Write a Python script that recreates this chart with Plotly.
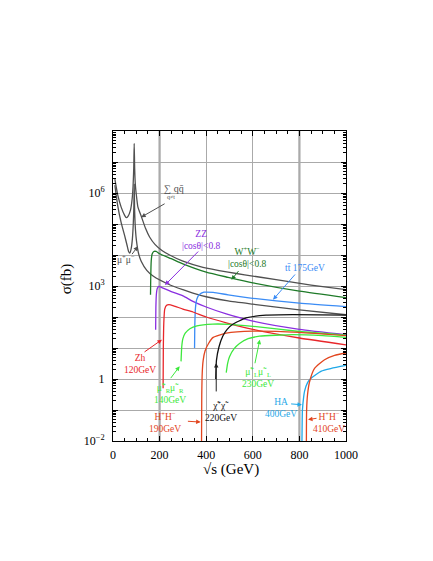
import plotly.graph_objects as go

# cross sections (fb) vs sqrt(s) (GeV)
qq_x = [8, 20, 35, 50, 57, 65, 75, 82, 86, 89, 91, 93, 96, 100, 107, 121, 140, 157, 180, 210, 243, 300, 386, 494, 565, 700, 850, 1000]
qq_y = [2.8e6, 8.9e5, 3.5e5, 1.9e5, 1.6e5, 1.8e5, 2.8e5, 6.3e5, 1.6e6, 6.3e6, 4.0e7, 6.3e6, 1.8e6, 8.9e5, 3.5e5, 1.8e5, 7.1e4, 3.8e4, 2.2e4, 1.4e4, 1.0e4, 6.3e3, 4.0e3, 2.8e3, 2.3e3, 1.6e3, 1.07e3, 760]

mumu_x = [8, 20, 35, 50, 60, 67, 72, 78, 83, 87, 89.5, 91, 92.5, 95, 100, 110, 121, 145, 172, 243, 300, 343, 400, 494, 600, 800, 1000]
mumu_y = [1.8e6, 4.0e5, 1.1e5, 4.2e4, 2.1e4, 1.3e4, 1.15e4, 1.6e4, 3.2e4, 1.0e5, 3.5e5, 1.9e6, 3.5e5, 1.0e5, 3.2e4, 1.1e4, 6.3e3, 3.2e3, 2.1e3, 1.1e3, 760, 590, 450, 330, 260, 170, 118]

ww_x = [161, 162, 164, 168, 175, 185, 200, 250, 300, 400, 494, 600, 800, 1000]
ww_y = [520, 2000, 6300, 1.07e4, 1.3e4, 1.3e4, 1.1e4, 7600, 5200, 2800, 1900, 1260, 680, 420]

zz_x = [183, 184, 186, 190, 197, 210, 250, 300, 343, 400, 486, 600, 800, 1000]
zz_y = [39, 200, 520, 830, 980, 890, 660, 480, 320, 210, 126, 74, 40, 27]

tt_x = [350, 351, 354, 360, 370, 390, 430, 494, 600, 800, 1000]
tt_y = [10, 50, 200, 380, 520, 630, 620, 520, 400, 280, 215]

zh_x = [215, 216, 218, 222, 230, 240, 260, 300, 343, 400, 486, 600, 800, 1000]
zh_y = [0.5, 10, 63, 180, 240, 250, 230, 180, 145, 100, 65, 40, 21, 12.6]

smuR_x = [292, 295, 300, 310, 330, 360, 429, 500, 600, 800, 1000]
smuR_y = [3.7, 11, 20, 30, 42, 52, 59, 58, 50, 34, 26]

hh190_x = [380, 381, 383, 387, 395, 410, 430, 486, 600, 800, 1000]
hh190_y = [0.01, 0.32, 1.6, 4, 8, 14, 22, 30, 35, 32, 25]

chi_x = [441, 444, 455, 471, 490, 514, 571, 657, 771, 1000]
chi_y = [1, 4, 11, 24, 40, 58, 93, 115, 120, 115]

smuL_x = [486, 492, 500, 520, 543, 580, 629, 771, 900, 1000]
smuL_y = [1.6, 3.2, 5.2, 9.5, 14, 20, 24, 27, 25, 22]

ha_x = [811, 812, 813, 818, 822, 835, 851, 894, 937, 1000]
ha_y = [0.01, 0.05, 0.1, 0.25, 0.4, 0.76, 1.07, 1.8, 2.2, 2.75]

hh410_x = [830, 831, 835, 844, 865, 908, 951, 1000]
hh410_y = [0.01, 0.1, 0.32, 0.83, 2.2, 4.2, 5.8, 6.9]

x_ticks = [0, 200, 400, 600, 800, 1000]
y_ticks = [1e-2, 1e-1, 1, 1e1, 1e2, 1e3, 1e4, 1e5, 1e6, 1e7, 1e8]
y_ticktext = ["10<sup>−2</sup>", "", "1", "", "", "10<sup>3</sup>", "", "", "10<sup>6</sup>", "", ""]
marked_energies = [200, 800]

GRAY = "#505050"
COLORS = {
    "qq": GRAY,
    "mumu": GRAY,
    "ww": "#1e7a28",
    "zz": "#8a2ee0",
    "tt": "#3b8cf5",
    "zh": "#e8262a",
    "smuR": "#3de83d",
    "hh190": "#e2451e",
    "chi": "#111111",
    "smuL": "#3de83d",
    "ha": "#1fa8e8",
    "hh410": "#e2451e",
}

series = [
    ("qq", qq_x, qq_y),
    ("mumu", mumu_x, mumu_y),
    ("ww", ww_x, ww_y),
    ("zz", zz_x, zz_y),
    ("tt", tt_x, tt_y),
    ("zh", zh_x, zh_y),
    ("smuR", smuR_x, smuR_y),
    ("hh190", hh190_x, hh190_y),
    ("chi", chi_x, chi_y),
    ("smuL", smuL_x, smuL_y),
    ("ha", ha_x, ha_y),
    ("hh410", hh410_x, hh410_y),
]

fig = go.Figure()
for name, xs, ys in series:
    fig.add_trace(
        go.Scatter(
            x=xs,
            y=ys,
            mode="lines",
            name=name,
            line=dict(color=COLORS[name], width=1.3, shape="spline", smoothing=0.5),
            showlegend=False,
        )
    )

for e in marked_energies:
    fig.add_vline(x=e, line=dict(color="#b8b8b8", width=2.5), layer="below")

FONT = "Liberation Serif, Times New Roman, serif"


def label(text, x, y, color, size=9.5):
    # x in GeV, y as log10(sigma)
    fig.add_annotation(
        x=x, y=y, text=text, showarrow=False,
        font=dict(family=FONT, size=size, color=color),
    )


def arrow(x0, y0, x1, y1, color):
    fig.add_annotation(
        x=x1, y=y1, ax=x0, ay=y0, axref="x", ayref="y", text="",
        showarrow=True, arrowhead=2, arrowsize=0.9, arrowwidth=1,
        arrowcolor=color,
    )


label("∑ qq̄", 262, 6.16, GRAY, 10)
label("q≠t", 249, 5.88, GRAY, 6)
arrow(228, 5.68, 121, 5.22, GRAY)

label("μ<sup>+</sup>μ<sup>−</sup>", 56, 3.87, GRAY)
arrow(77, 3.98, 107, 4.28, GRAY)

label("ZZ<br>|cosθ|<0.8", 378, 4.5, COLORS["zz"])
arrow(372, 4.16, 223, 3.03, COLORS["zz"])

label("W<sup>+</sup>W<sup>−</sup><br>|cosθ|<0.8", 579, 3.94, COLORS["ww"])
arrow(544, 3.53, 508, 3.2, COLORS["ww"])

label("tt̄ 175GeV", 823, 3.58, COLORS["tt"])
arrow(787, 3.42, 687, 2.56, COLORS["tt"])

label("Zh<br>120GeV", 117, 0.48, COLORS["zh"])
arrow(129, 0.84, 210, 1.27, COLORS["zh"])

label("μ̃<sup>+</sup><sub>R</sub>μ̃<sup>−</sup><sub>R</sub><br>140GeV", 243, -0.45, COLORS["smuR"])
arrow(243, -0.02, 286, 0.41, COLORS["smuR"])

label("H<sup>+</sup>H<sup>−</sup><br>190GeV", 222, -1.4, COLORS["hh190"])
arrow(315, -1.36, 376, -1.39, COLORS["hh190"])

label("χ̃<sup>+</sup>χ̃<sup>−</sup><br>220GeV", 465, -1.03, "#111111")
arrow(443, -0.45, 443, 0.52, "#222222")

label("μ̃<sup>+</sup><sub>L</sub>μ̃<sup>−</sup><sub>L</sub><br>230GeV", 622, 0.06, COLORS["smuL"])
arrow(608, 0.46, 630, 1.27, COLORS["smuL"])

label("HA<br>400GeV", 719, -0.94, COLORS["ha"])
arrow(758, -0.8, 811, -0.83, COLORS["ha"])

label("H<sup>+</sup>H<sup>−</sup><br>410GeV", 927, -1.38, COLORS["hh410"])
arrow(880, -1.26, 837, -1.31, COLORS["hh410"])

# axis titles
fig.add_annotation(
    x=0.506, y=-0.126, xref="paper", yref="paper", text="√s (GeV)",
    showarrow=False, font=dict(family=FONT, size=15, color="black"),
)
fig.add_annotation(
    x=-0.245, y=0.523, xref="paper", yref="paper", text="σ(fb)", textangle=-90,
    showarrow=False, font=dict(family=FONT, size=15, color="black"),
)

minor_y = [m * 10 ** d for d in range(-2, 8) for m in range(2, 10)]

fig.update_xaxes(
    range=[0, 1000],
    tickvals=x_ticks,
    ticks="inside",
    ticklen=5,
    tickcolor="black",
    ticklabelstandoff=3,
    showline=True,
    linecolor="black",
    linewidth=1,
    mirror="ticks",
    showgrid=True,
    gridcolor="#aaaaaa",
    gridwidth=1,
    zeroline=False,
    minor=dict(dtick=50, ticks="inside", ticklen=3, tickcolor="black", showgrid=False),
    tickfont=dict(family=FONT, size=12, color="black"),
)
fig.update_yaxes(
    type="log",
    range=[-2, 8],
    tickvals=y_ticks,
    ticktext=y_ticktext,
    ticks="inside",
    ticklen=5,
    tickcolor="black",
    ticklabelstandoff=5,
    showline=True,
    linecolor="black",
    linewidth=1,
    mirror="ticks",
    showgrid=True,
    gridcolor="#aaaaaa",
    gridwidth=1,
    zeroline=False,
    minor=dict(tickvals=minor_y, ticks="inside", ticklen=3, tickcolor="black", showgrid=False),
    tickfont=dict(family=FONT, size=12, color="black"),
)

fig.update_layout(
    width=433,
    height=561,
    margin=dict(l=105, r=95, t=123, b=128, autoexpand=False),
    plot_bgcolor="white",
    paper_bgcolor="white",
    font=dict(family=FONT),
)

fig.write_html("out.html")
